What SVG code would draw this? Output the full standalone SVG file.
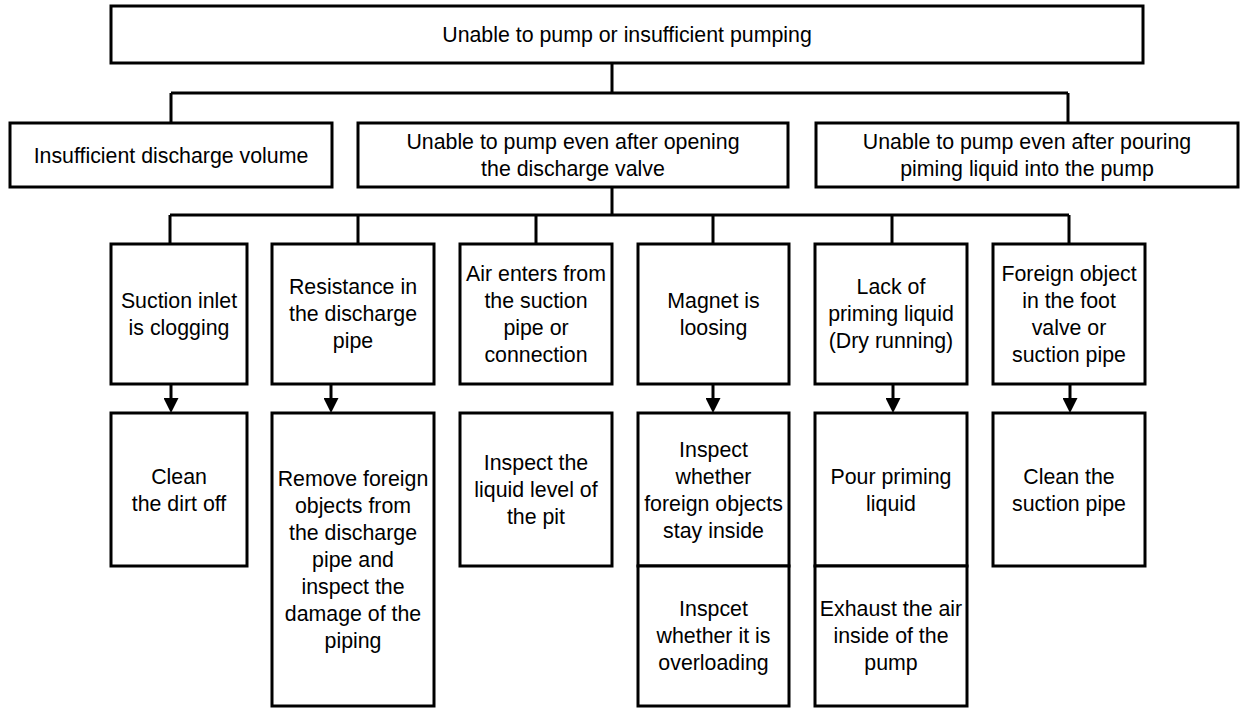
<svg xmlns="http://www.w3.org/2000/svg" width="1248" height="709" viewBox="0 0 1248 709">
<defs>
<style>
.box{fill:#fff;stroke:#000;stroke-width:3}
.ln{fill:none;stroke:#000;stroke-width:3}
text{font-family:"Liberation Sans",Arial,sans-serif;font-size:21.33px;fill:#000;text-anchor:middle}
</style>
<marker id="ah" viewBox="0 0 10 10" refX="4" refY="5" markerWidth="15" markerHeight="15" markerUnits="userSpaceOnUse" orient="auto">
<path d="M0,0 L10,5 L0,10 z" fill="#000"/>
</marker>
</defs>
<rect width="1248" height="709" fill="#fff"/>
<g id="connectors">
<path class="ln" d="M612,63 V93 M171,93 H1068 M171,93 V123 M1068,93 V123"/>
<path class="ln" d="M612,187 V215 M170,215 H1069 M170,215 V244 M358,215 V244 M536,215 V244 M713,215 V244 M892,215 V244 M1069,215 V244"/>
<line class="ln" x1="171" y1="384" x2="171" y2="404" marker-end="url(#ah)"/>
<line class="ln" x1="331" y1="384" x2="331" y2="404" marker-end="url(#ah)"/>
<line class="ln" x1="713" y1="384" x2="713" y2="404" marker-end="url(#ah)"/>
<line class="ln" x1="893" y1="384" x2="893" y2="404" marker-end="url(#ah)"/>
<line class="ln" x1="1070" y1="384" x2="1070" y2="404" marker-end="url(#ah)"/>
</g>
<g id="root"><rect class="box" x="111" y="6" width="1032" height="57"/><text x="627" y="42">Unable to pump or insufficient pumping</text></g>
<g id="n-volume"><rect class="box" x="10" y="123" width="322" height="64"/><text x="171" y="162.5">Insufficient discharge volume</text></g>
<g id="n-valve"><rect class="box" x="358" y="123" width="430" height="64"/><text x="573" y="149">Unable to pump even after opening</text><text x="573" y="176">the discharge valve</text></g>
<g id="n-priming"><rect class="box" x="816" y="123" width="422" height="64"/><text x="1027" y="149">Unable to pump even after pouring</text><text x="1027" y="176">piming liquid into the pump</text></g>
<g id="c1"><rect class="box" x="111" y="244" width="136" height="140"/><text x="179" y="308">Suction inlet</text><text x="179" y="335">is clogging</text></g>
<g id="c2"><rect class="box" x="272" y="244" width="162" height="140"/><text x="353" y="294">Resistance in</text><text x="353" y="321">the discharge</text><text x="353" y="348">pipe</text></g>
<g id="c3"><rect class="box" x="460" y="244" width="152" height="140"/><text x="536" y="281">Air enters from</text><text x="536" y="308">the suction</text><text x="536" y="335">pipe or</text><text x="536" y="362">connection</text></g>
<g id="c4"><rect class="box" x="638" y="244" width="151" height="140"/><text x="713.5" y="308">Magnet is</text><text x="713.5" y="335">loosing</text></g>
<g id="c5"><rect class="box" x="815" y="244" width="152" height="140"/><text x="891" y="294">Lack of</text><text x="891" y="321">priming liquid</text><text x="891" y="348">(Dry running)</text></g>
<g id="c6"><rect class="box" x="993" y="244" width="152" height="140"/><text x="1069" y="281">Foreign object</text><text x="1069" y="308">in the foot</text><text x="1069" y="335">valve or</text><text x="1069" y="362">suction pipe</text></g>
<g id="r1"><rect class="box" x="111" y="413" width="136" height="153"/><text x="179" y="483.5">Clean</text><text x="179" y="510.5">the dirt off</text></g>
<g id="r2"><rect class="box" x="272" y="413" width="162" height="293"/><text x="353" y="486">Remove foreign</text><text x="353" y="513">objects from</text><text x="353" y="540">the discharge</text><text x="353" y="567">pipe and</text><text x="353" y="594">inspect the</text><text x="353" y="621">damage of the</text><text x="353" y="648">piping</text></g>
<g id="r3"><rect class="box" x="460" y="413" width="152" height="153"/><text x="536" y="470">Inspect the</text><text x="536" y="497">liquid level of</text><text x="536" y="524">the pit</text></g>
<g id="r4a"><rect class="box" x="638" y="413" width="151" height="153"/><text x="713.5" y="456.5">Inspect</text><text x="713.5" y="483.5">whether</text><text x="713.5" y="510.5">foreign objects</text><text x="713.5" y="537.5">stay inside</text></g>
<g id="r4b"><rect class="box" x="638" y="566" width="151" height="140"/><text x="713.5" y="616">Inspcet</text><text x="713.5" y="643">whether it is</text><text x="713.5" y="670">overloading</text></g>
<g id="r5a"><rect class="box" x="815" y="413" width="152" height="153"/><text x="891" y="483.5">Pour priming</text><text x="891" y="510.5">liquid</text></g>
<g id="r5b"><rect class="box" x="815" y="566" width="152" height="140"/><text x="891" y="616">Exhaust the air</text><text x="891" y="643">inside of the</text><text x="891" y="670">pump</text></g>
<g id="r6"><rect class="box" x="993" y="413" width="152" height="153"/><text x="1069" y="483.5">Clean the</text><text x="1069" y="510.5">suction pipe</text></g>
</svg>
